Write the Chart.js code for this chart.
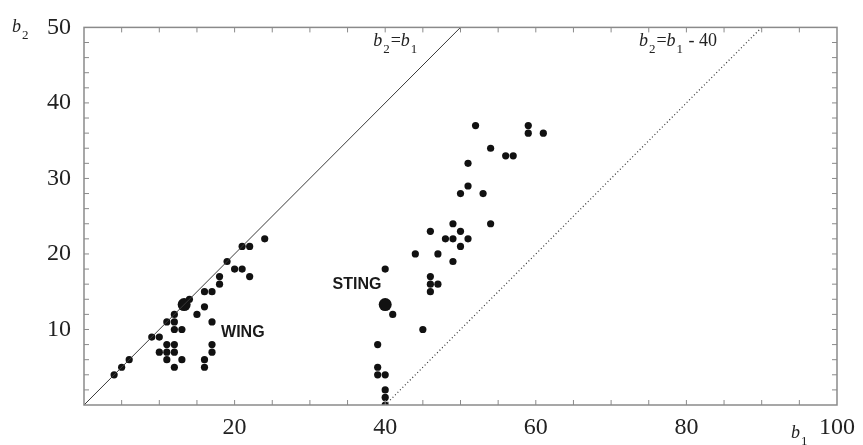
<!DOCTYPE html>
<html>
<head>
<meta charset="utf-8">
<script src="https://cdn.jsdelivr.net/npm/chart.js@4/dist/chart.umd.min.js"></script>
<style>
    html, body { margin: 0; padding: 0; background: #fff; }
    #wrap { width: 863px; height: 445px; position: relative; }
</style>
</head>
<body>
<div id="wrap"><canvas id="chart"></canvas></div>
<script>
// Data
const wingB1 = [4, 5, 6, 9, 10, 10, 11, 11, 11, 12, 12, 12, 13, 11, 12, 12, 12, 13, 14, 15, 16, 16, 17, 17, 17, 17, 16, 16, 18, 18, 19, 20, 21, 22, 21, 22, 24];
const wingB2 = [4, 5, 6, 9, 9, 7, 8, 7, 6, 8, 7, 5, 6, 11, 11, 12, 10, 10, 14, 12, 13, 15, 15, 11, 8, 7, 6, 5, 16, 17, 19, 18, 18, 17, 21, 21, 22];

const stingB1 = [52, 59, 59, 61, 54, 56, 57, 51, 51, 50, 53, 54, 49, 46, 50, 48, 49, 51, 50, 44, 47, 49, 40, 46, 46, 47, 46, 41, 45, 39, 39, 39, 40, 40, 40, 40];
const stingB2 = [37, 37, 36, 36, 34, 33, 33, 32, 29, 28, 28, 24, 24, 23, 23, 22, 22, 22, 21, 20, 20, 19, 18, 17, 16, 16, 15, 12, 10, 8, 5, 4, 4, 2, 1, 0];

// the two highlighted configurations (WING, STING)
const bigB1 = [13.3, 40];
const bigB2 = [13.3, 13.3];

// reference lines b2 = b1 and b2 = b1 - 40
const diagB1 = [0, 50];
const diagB2 = [0, 50];
const shiftB1 = [40, 90];
const shiftB2 = [0, 50];

const xTicks = [20, 40, 60, 80, 100];
const yTicks = [10, 20, 30, 40, 50];

const toPoints = (xs, ys) => xs.map((x, i) => ({ x: x, y: ys[i] }));

const SERIF = '"Liberation Serif", "DejaVu Serif", serif';
const SANS = '"Liberation Sans", Arial, sans-serif';

// draws e.g. b_2=b_1 - 40 with subscripts
function drawFormula(ctx, x, y, parts) {
    ctx.textBaseline = 'alphabetic';
    ctx.textAlign = 'left';
    parts.forEach(p => {
        if (p.sub) {
            ctx.font = '13px ' + SERIF;
            ctx.fillText(p.text, x + 1, y + 7);
            x += ctx.measureText(p.text).width + 2;
        } else {
            ctx.font = (p.italic ? 'italic ' : '') + '18px ' + SERIF;
            ctx.fillText(p.text, x, y);
            x += ctx.measureText(p.text).width;
        }
    });
}

const framePlugin = {
    id: 'frame',
    afterDatasetsDraw(chart) {
        const { ctx, chartArea: a, scales } = chart;
        const sx = scales.x, sy = scales.y;
        ctx.save();
        ctx.strokeStyle = '#8a8a8a';
        ctx.lineWidth = 1.5;
        ctx.strokeRect(a.left, a.top, a.right - a.left, a.bottom - a.top);

        // inward ticks
        ctx.lineWidth = 1;
        ctx.beginPath();
        for (let v = 5; v < 100; v += 5) {
            const px = sx.getPixelForValue(v);
            ctx.moveTo(px, a.bottom); ctx.lineTo(px, a.bottom - 5);
            ctx.moveTo(px, a.top); ctx.lineTo(px, a.top + 5);
        }
        for (let v = 2; v < 50; v += 2) {
            const py = sy.getPixelForValue(v);
            ctx.moveTo(a.left, py); ctx.lineTo(a.left + 5, py);
            ctx.moveTo(a.right, py); ctx.lineTo(a.right - 5, py);
        }
        ctx.stroke();

        ctx.fillStyle = '#222';
        // line labels
        drawFormula(ctx, sx.getPixelForValue(38.4), sy.getPixelForValue(47.6), [
            { text: 'b', italic: true }, { text: '2', sub: true }, { text: '=' },
            { text: 'b', italic: true }, { text: '1', sub: true }
        ]);
        drawFormula(ctx, sx.getPixelForValue(73.7), sy.getPixelForValue(47.6), [
            { text: 'b', italic: true }, { text: '2', sub: true }, { text: '=' },
            { text: 'b', italic: true }, { text: '1', sub: true }, { text: ' - 40' }
        ]);

        // axis titles
        drawFormula(ctx, a.left - 72, a.top + 5, [{ text: 'b', italic: true }, { text: '2', sub: true }]);
        drawFormula(ctx, a.right - 46, a.bottom + 33, [{ text: 'b', italic: true }, { text: '1', sub: true }]);

        // group labels
        ctx.fillStyle = '#1a1a1a';
        ctx.font = 'bold 16px ' + SANS;
        ctx.textBaseline = 'middle';
        ctx.fillText('WING', sx.getPixelForValue(18.2), sy.getPixelForValue(9.55));
        ctx.fillText('STING', sx.getPixelForValue(33.0), sy.getPixelForValue(16.0));
        ctx.restore();
    }
};

document.addEventListener('DOMContentLoaded', () => {
    const ctx = document.getElementById('chart').getContext('2d');

    new Chart(ctx, {
        type: 'scatter',
        data: {
            datasets: [
                {
                    label: 'b2 = b1',
                    data: toPoints(diagB1, diagB2),
                    showLine: true,
                    borderColor: '#3a3a3a',
                    borderWidth: 1,
                    pointRadius: 0,
                    clip: 0
                },
                {
                    label: 'b2 = b1 - 40',
                    data: toPoints(shiftB1, shiftB2),
                    showLine: true,
                    borderColor: '#333',
                    borderWidth: 1.2,
                    borderDash: [1, 2.5],
                    pointRadius: 0,
                    clip: 0
                },
                {
                    label: 'wing',
                    data: toPoints(wingB1, wingB2),
                    backgroundColor: '#111',
                    borderWidth: 0,
                    pointRadius: 3.6,
                    clip: 0
                },
                {
                    label: 'sting',
                    data: toPoints(stingB1, stingB2),
                    backgroundColor: '#111',
                    borderWidth: 0,
                    pointRadius: 3.6,
                    clip: 0
                },
                {
                    label: 'highlight',
                    data: toPoints(bigB1, bigB2),
                    backgroundColor: '#111',
                    borderWidth: 0,
                    pointRadius: 6.5,
                    clip: 0
                }
            ]
        },
        options: {
            responsive: true,
            maintainAspectRatio: false,
            animation: false,
            layout: { padding: { top: 23, right: 16, left: 0, bottom: 0 } },
            plugins: {
                legend: { display: false },
                tooltip: { enabled: false }
            },
            scales: {
                x: {
                    type: 'linear',
                    min: 0,
                    max: 100,
                    afterBuildTicks: (scale) => { scale.ticks = xTicks.map(v => ({ value: v })); },
                    afterFit: (scale) => { scale.height = 40; },
                    grid: { display: false, drawTicks: false },
                    border: { display: false },
                    ticks: {
                        padding: 8,
                        color: '#222',
                        font: { family: SERIF, size: 24 },
                        maxRotation: 0
                    }
                },
                y: {
                    type: 'linear',
                    min: 0,
                    max: 50,
                    afterBuildTicks: (scale) => { scale.ticks = yTicks.map(v => ({ value: v })); },
                    afterFit: (scale) => { scale.width = 84; },
                    grid: { display: false, drawTicks: false },
                    border: { display: false },
                    ticks: {
                        padding: 13,
                        color: '#222',
                        font: { family: SERIF, size: 24 }
                    }
                }
            }
        },
        plugins: [framePlugin]
    });
});
</script>
</body>
</html>
